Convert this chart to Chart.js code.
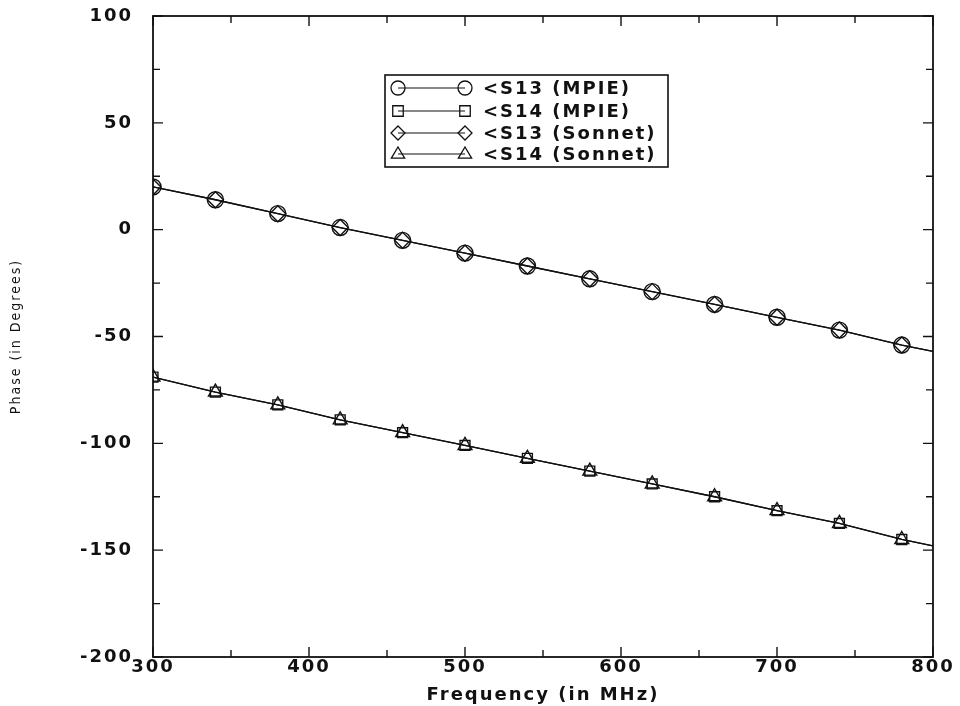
<!DOCTYPE html>
<html>
<head>
<meta charset="utf-8">
<script src="https://cdn.jsdelivr.net/npm/chart.js@4/dist/chart.umd.min.js"></script>
<style>
  html, body { margin: 0; padding: 0; background: #fff; }
  #wrap { width: 960px; height: 706px; }
</style>
</head>
<body>
<div id="wrap"><canvas id="chart" width="960" height="706"></canvas></div>
<script>
// frequencies where points are plotted (last one is line end, no marker)
const freqs = [300, 340, 380, 420, 460, 500, 540, 580, 620, 660, 700, 740, 780, 800];

// phase values in degrees
const s13Mpie   = [20, 14, 7.5, 1, -5, -11, -17, -23, -29, -35, -41, -47, -54, -57];
const s14Mpie   = [-69, -76, -82, -89, -95, -101, -107, -113, -119, -125, -131.5, -137.5, -145, -148];
const s13Sonnet = [20, 14, 7.5, 1, -5, -11, -17, -23, -29, -35, -41, -47, -54, -57];
const s14Sonnet = [-69, -76, -82, -89, -95, -101, -107, -113, -119, -125, -131.5, -137.5, -145, -148];

const seriesLabels = ['<S13 (MPIE)', '<S14 (MPIE)', '<S13 (Sonnet)', '<S14 (Sonnet)'];
const markers = ['circle', 'rect', 'rectRot', 'triangle'];

const font = '"DejaVu Sans", Verdana, sans-serif';
const spacing = '2px'; // the scanned lettering is wide

function toPoints(vals) {
  return freqs.map((f, i) => ({ x: f, y: vals[i] }));
}

const allSeries = [s13Mpie, s14Mpie, s13Sonnet, s14Sonnet];

const datasets = allSeries.map((vals, i) => ({
  label: seriesLabels[i],
  data: toPoints(vals),
  borderColor: '#111',
  borderWidth: 1.3,
  backgroundColor: 'rgba(0,0,0,0)',
  pointStyle: markers[i],
  pointBorderColor: '#111',
  pointBorderWidth: 1.4,
  pointRadius: (ctx) => (ctx.dataIndex === freqs.length - 1 ? 0 : (markers[i] === 'rect' ? 7 : 8)),
  tension: 0
}));

// wide lettering for all canvas text
const spacingPlugin = {
  id: 'spacing',
  beforeLayout(chart) { chart.ctx.letterSpacing = spacing; },
  beforeDraw(chart) { chart.ctx.letterSpacing = spacing; }
};

// frame + inward ticks on all four sides
const framePlugin = {
  id: 'frame',
  afterDatasetsDraw(chart) {
    const { ctx, chartArea: a, scales } = chart;
    ctx.save();
    ctx.strokeStyle = '#111';
    ctx.lineWidth = 1.8;
    ctx.strokeRect(a.left, a.top, a.right - a.left, a.bottom - a.top);
    ctx.lineWidth = 1.4;
    ctx.beginPath();
    for (let v = 300; v <= 800; v += 50) {
      const px = scales.x.getPixelForValue(v);
      const len = v % 100 === 0 ? 10 : 7;
      ctx.moveTo(px, a.bottom); ctx.lineTo(px, a.bottom - len);
      ctx.moveTo(px, a.top); ctx.lineTo(px, a.top + len);
    }
    for (let v = -200; v <= 100; v += 25) {
      const py = scales.y.getPixelForValue(v);
      const len = v % 50 === 0 ? 10 : 7;
      ctx.moveTo(a.left, py); ctx.lineTo(a.left + len, py);
      ctx.moveTo(a.right, py); ctx.lineTo(a.right - len, py);
    }
    ctx.stroke();
    ctx.restore();
  }
};

function drawMarker(ctx, style, x, y, r) {
  ctx.beginPath();
  if (style === 'circle') {
    ctx.arc(x, y, r, 0, Math.PI * 2);
  } else if (style === 'rect') {
    ctx.rect(x - r * 0.75, y - r * 0.75, r * 1.5, r * 1.5);
  } else if (style === 'rectRot') {
    ctx.moveTo(x, y - r); ctx.lineTo(x + r, y); ctx.lineTo(x, y + r); ctx.lineTo(x - r, y); ctx.closePath();
  } else {
    ctx.moveTo(x, y - r); ctx.lineTo(x + r * 0.95, y + r * 0.6); ctx.lineTo(x - r * 0.95, y + r * 0.6); ctx.closePath();
  }
  ctx.stroke();
}

// legend box drawn inside the plot, like the original
const legendPlugin = {
  id: 'boxLegend',
  afterDraw(chart) {
    const ctx = chart.ctx;
    const box = { left: 385, top: 75, right: 668, bottom: 167 };
    const rows = [88, 111, 133, 154];
    ctx.save();
    ctx.fillStyle = '#fff';
    ctx.fillRect(box.left, box.top, box.right - box.left, box.bottom - box.top);
    ctx.strokeStyle = '#111';
    ctx.lineWidth = 1.6;
    ctx.strokeRect(box.left, box.top, box.right - box.left, box.bottom - box.top);
    ctx.font = 'bold 18px ' + font;
    ctx.letterSpacing = spacing;
    ctx.textBaseline = 'middle';
    ctx.fillStyle = '#111';
    seriesLabels.forEach((lab, i) => {
      const y = rows[i];
      ctx.lineWidth = 1.2;
      ctx.beginPath();
      ctx.moveTo(398, y); ctx.lineTo(465, y);
      ctx.stroke();
      ctx.lineWidth = 1.3;
      drawMarker(ctx, markers[i], 398, y, 7);
      drawMarker(ctx, markers[i], 465, y, 7);
      ctx.fillText(lab, 483, y + 1);
    });
    ctx.restore();
  }
};

new Chart(document.getElementById('chart'), {
  type: 'line',
  data: { datasets },
  plugins: [spacingPlugin, framePlugin, legendPlugin],
  options: {
    responsive: false,
    animation: false,
    layout: { padding: { top: 16, right: 27, left: 0, bottom: 0 } },
    plugins: {
      legend: { display: false },
      tooltip: { enabled: false }
    },
    scales: {
      x: {
        type: 'linear',
        min: 300,
        max: 800,
        ticks: {
          stepSize: 100,
          padding: 0,
          color: '#111',
          font: { family: font, size: 18, weight: 'bold' }
        },
        grid: { display: false, drawTicks: false },
        border: { display: false },
        title: {
          display: true,
          text: 'Frequency (in MHz)',
          color: '#111',
          font: { family: font, size: 18, weight: 'bold' },
          padding: { top: 0, bottom: 0 }
        },
        afterFit(scale) {
          scale.height = 49;
          scale.paddingLeft = 0;
          scale.paddingRight = 0;
        }
      },
      y: {
        type: 'linear',
        min: -200,
        max: 100,
        ticks: {
          stepSize: 50,
          padding: 20,
          color: '#111',
          font: { family: font, size: 18, weight: 'bold' }
        },
        grid: { display: false, drawTicks: false },
        border: { display: false },
        title: {
          display: true,
          text: 'Phase (in Degrees)',
          color: '#111',
          font: { family: '"DejaVu Sans Condensed", "DejaVu Sans", sans-serif', size: 14 },
          padding: { top: 8, bottom: 0 }
        },
        afterFit(scale) {
          scale.width = 153;
          scale.paddingTop = 0;
          scale.paddingBottom = 0;
        }
      }
    }
  }
});
</script>
</body>
</html>
